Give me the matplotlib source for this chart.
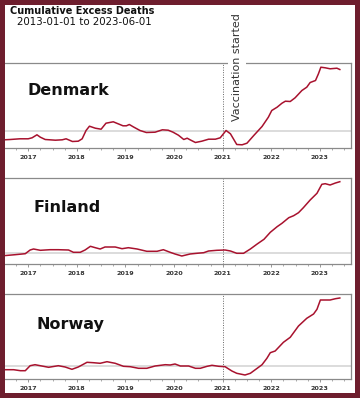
import matplotlib
matplotlib.use("Agg")
import matplotlib.pyplot as plt
from matplotlib.patches import Rectangle
from matplotlib.ticker import MultipleLocator

# cumulative excess deaths (arbitrary units, 0 = baseline)
dk_year = [2016.42, 2016.63, 2016.83, 2017.0, 2017.08, 2017.18, 2017.25, 2017.35, 2017.56, 2017.70,
           2017.78, 2017.91, 2018.03, 2018.11, 2018.19, 2018.26, 2018.38, 2018.50, 2018.60, 2018.75,
           2018.85, 2018.95, 2019.02, 2019.08, 2019.16, 2019.30, 2019.43, 2019.61, 2019.76, 2019.88,
           2019.98, 2020.09, 2020.20, 2020.27, 2020.33, 2020.44, 2020.57, 2020.71, 2020.85, 2020.95,
           2021.07, 2021.16, 2021.29, 2021.40, 2021.50, 2021.64, 2021.81, 2021.94, 2022.01, 2022.12,
           2022.22, 2022.29, 2022.39, 2022.49, 2022.63, 2022.73, 2022.80, 2022.91, 2022.97, 2023.02,
           2023.11, 2023.21, 2023.35, 2023.41]
dk_val = [-9.5, -9, -8.3, -8.3, -7.3, -4.3, -6.7, -9, -9.7, -9.3,
          -8.3, -11, -10.7, -8.3, 0, 4.3, 2.3, 1.3, 7.3, 8.7,
          6.7, 4.7, 4.7, 6, 3.7, 0, -2, -1.7, 0.7, 0.3,
          -1.7, -4.7, -9, -7.7, -9.3, -12, -10.7, -8.7, -8.7, -7.3,
          0, -3.3, -14, -14.3, -12.7, -5, 4, 13.3, 20, 23.3,
          27.3, 29.3, 29, 32.7, 40, 43.3, 48, 50, 56.7, 63.3,
          62.7, 61.7, 62.3, 61]

fi_year = [2016.42, 2016.73, 2016.94, 2017.04, 2017.11, 2017.25, 2017.45, 2017.62, 2017.83, 2017.93,
           2018.07, 2018.17, 2018.28, 2018.38, 2018.48, 2018.58, 2018.79, 2018.93, 2019.06, 2019.24,
           2019.44, 2019.65, 2019.78, 2019.92, 2020.02, 2020.16, 2020.33, 2020.47, 2020.61, 2020.71,
           2020.88, 2021.05, 2021.16, 2021.29, 2021.43, 2021.57, 2021.71, 2021.85, 2021.98, 2022.12,
           2022.22, 2022.36, 2022.46, 2022.56, 2022.66, 2022.80, 2022.94, 2023.04, 2023.11, 2023.21,
           2023.32, 2023.41]
fi_val = [-3, -1.7, -0.7, 3, 4, 2.7, 3.3, 3.3, 3, 0.7,
          0.7, 3, 6.7, 5.3, 4, 6, 6, 4.3, 5.3, 4,
          1.7, 1.7, 3.3, 0.7, -1, -3, -1, -0.3, 0.3, 2,
          2.7, 3, 2, -0.3, -0.3, 4, 9, 13.7, 20.7, 26.3,
          29.7, 35.3, 37.3, 40.3, 45.3, 53, 59.7, 68.7, 69.3, 68,
          70, 71.3]

no_year = [2016.42, 2016.70, 2016.84, 2016.94, 2017.04, 2017.14, 2017.28, 2017.42, 2017.62, 2017.76,
           2017.90, 2018.03, 2018.21, 2018.34, 2018.48, 2018.62, 2018.79, 2018.96, 2019.10, 2019.27,
           2019.44, 2019.61, 2019.82, 2019.92, 2020.02, 2020.13, 2020.30, 2020.44, 2020.54, 2020.68,
           2020.78, 2020.92, 2021.05, 2021.19, 2021.29, 2021.46, 2021.57, 2021.71, 2021.81, 2021.91,
           2021.98, 2022.08, 2022.25, 2022.39, 2022.56, 2022.73, 2022.87, 2022.94, 2023.01, 2023.11,
           2023.21, 2023.32, 2023.41]
no_val = [-3.7, -3.7, -4.7, -4.7, 0.3, 1.3, 0, -1.3, 0.3, -1,
          -3.3, -1, 3.7, 3.3, 2.7, 4.3, 2.7, -0.3, -0.7, -2.3,
          -2.3, 0, 1.3, 1, 2, 0, 0, -2.3, -2.3, -0.3,
          0.7, -0.3, -0.7, -5, -7.3, -9, -7.3, -2.3, 1.3, 7.7,
          13.3, 15, 23.7, 28.7, 40, 47.7, 52, 56.7, 66, 66,
          66, 67.3, 68]

countries = ["Denmark", "Finland", "Norway"]
series = [(dk_year, dk_val), (fi_year, fi_val), (no_year, no_val)]
ylims = [(-17.8, 67.2), (-11, 74.7), (-13.3, 72)]
years = [2017, 2018, 2019, 2020, 2021, 2022, 2023]

W, H = 360, 398
fig = plt.figure(figsize=(W / 100, H / 100), dpi=100)

# axes boxes in pixels: (top, bottom)
boxes = [(63.3, 148.3), (178.3, 264.0), (294.0, 379.3)]
label_pos = [(0.077, 0.678), (0.095, 0.662), (0.103, 0.637)]

line_col = "#a8122e"
for i in range(3):
    top, bot = boxes[i]
    ax = fig.add_axes([0, 1 - bot / H, 351 / W, (bot - top) / H])
    x, y = series[i]
    ax.axhline(0, color="#d6d6d6", lw=1.2, zorder=1)
    ax.axvline(2021.0, color="#666666", lw=0.7, ls=(0, (1, 1.5)), zorder=1)
    ax.plot(x, y, color=line_col, lw=1.1, zorder=3)
    ax.set_xlim(2016.42, 2023.64)
    ax.set_ylim(*ylims[i])
    ax.set_yticks([])
    ax.set_xticks(years)
    ax.set_xticklabels([str(yr) for yr in years], fontsize=4.6, fontweight="bold", color="#333333")
    ax.xaxis.set_minor_locator(MultipleLocator(0.25))
    ax.tick_params(axis="x", which="major", length=2.2, width=0.6, pad=2.5, color="#888888")
    ax.tick_params(axis="x", which="minor", length=1.4, width=0.5, color="#888888")
    for s in ax.spines.values():
        s.set_color("#8a8a8a")
        s.set_linewidth(0.9)
    lx, ly = label_pos[i]
    ax.text(lx, ly, countries[i], transform=ax.transAxes, fontsize=11.5, fontweight="bold",
            ha="left", va="center", color="#111111")

fig.text(10 / W, 1 - 11 / H, "Cumulative Excess Deaths", fontsize=7, fontweight="bold",
         ha="left", va="center", color="#111111")
fig.text(17 / W, 1 - 22 / H, "2013-01-01 to 2023-06-01", fontsize=7.4,
         ha="left", va="center", color="#111111")
fig.text(237 / W, 1 - 67.5 / H, "Vaccination started", rotation=90, fontsize=8,
         ha="center", va="center", color="#333333", zorder=5,
         bbox=dict(boxstyle="square,pad=0.35", fc="white", ec="none"))

fig.patches.append(Rectangle((0, 0), 1, 1, transform=fig.transFigure, fill=False,
                             edgecolor="#6e1e2e", linewidth=7.2, zorder=10))

fig.savefig("out.png", dpi=100)
